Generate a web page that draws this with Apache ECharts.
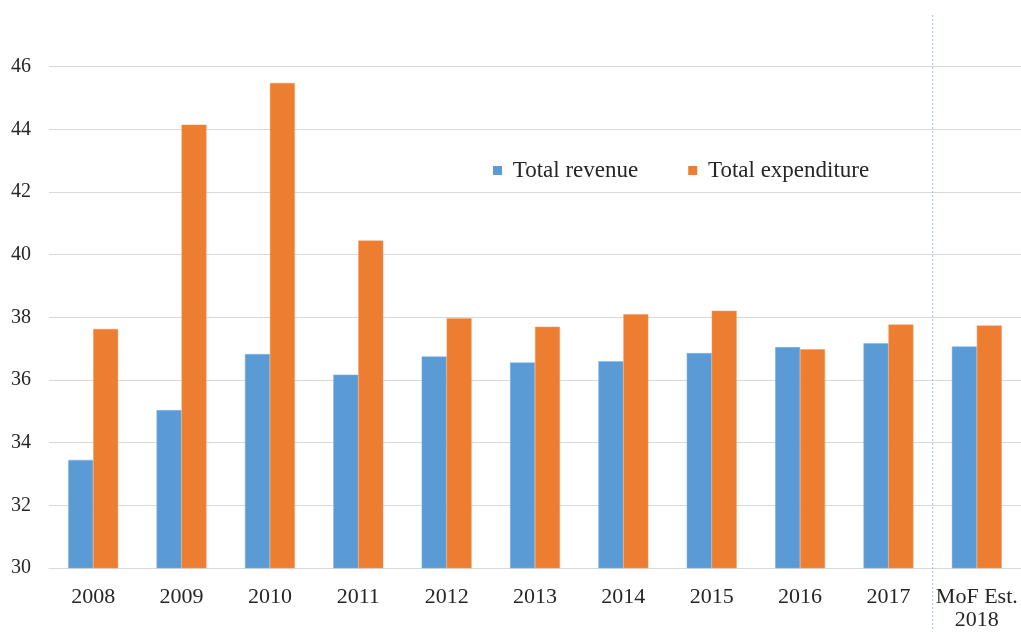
<!DOCTYPE html>
<html>
<head>
<meta charset="utf-8">
<script src="https://cdn.jsdelivr.net/npm/echarts@6/dist/echarts.min.js"></script>
<style>html,body{margin:0;padding:0;background:#fff;}#chart{width:1021px;height:632px;}</style>
</head>
<body>
<div id="chart"></div>
<script>
const categories = ['2008','2009','2010','2011','2012','2013','2014','2015','2016','2017','MoF Est.\n2018'];
const totalRevenue = [33.45, 35.04, 36.83, 36.17, 36.75, 36.56, 36.60, 36.86, 37.05, 37.17, 37.07];
const totalExpenditure = [37.63, 44.15, 45.48, 40.45, 37.97, 37.70, 38.10, 38.21, 36.98, 37.77, 37.74];
const separatorAt = 9.5;
const yMin = 30, yMax = 47.65, yInterval = 2;

const font = 'Liberation Serif, Times New Roman, serif';
const chart = echarts.init(document.getElementById('chart'));
chart.setOption({
  animation: false,
  backgroundColor: '#ffffff',
  grid: { left: 49, right: -1, top: 15, bottom: 61, containLabel: false },
  legend: {
    data: ['Total revenue', 'Total expenditure'],
    left: 488, top: 154,
    icon: 'rect', itemWidth: 9, itemHeight: 9, itemGap: 50,
    itemStyle: { borderWidth: 0 },
    formatter: function (n) { return ' ' + n; },
    textStyle: { fontFamily: font, fontSize: 23, color: '#262626' }
  },
  xAxis: [{
    type: 'category',
    data: categories,
    axisLine: { show: true, lineStyle: { color: '#d9d9d9', width: 1 } },
    axisTick: { show: false },
    axisLabel: { interval: 0, fontFamily: font, fontSize: 22, color: '#262626', margin: 18, lineHeight: 23 }
  }, {
    type: 'value', min: -0.5, max: 10.5, show: false
  }],
  yAxis: {
    type: 'value', min: yMin, max: yMax, interval: yInterval,
    axisLine: { show: false }, axisTick: { show: false },
    axisLabel: { fontFamily: font, fontSize: 20, color: '#262626', margin: 18, showMaxLabel: false },
    splitLine: { lineStyle: { color: '#d9d9d9', width: 1 }, showMaxLine: false }
  },
  series: [{
    name: 'Total revenue', type: 'bar', data: totalRevenue,
    barGap: '0%', barCategoryGap: '43.5%',
    itemStyle: { color: '#5b9bd5', borderColor: '#7fb2e0', borderWidth: 0.5 }
  }, {
    name: 'Total expenditure', type: 'bar', data: totalExpenditure,
    barGap: '0%', barCategoryGap: '43.5%',
    itemStyle: { color: '#ed7d31', borderColor: '#f29a60', borderWidth: 0.5 }
  }, {
    name: 'separator', type: 'line', xAxisIndex: 1, clip: false,
    symbol: 'none', silent: true,
    data: [[separatorAt, yMax], [separatorAt, 28.0]],
    lineStyle: { color: '#9dc3e6', width: 1, type: [2, 2] }
  }]
});
</script>
</body>
</html>
